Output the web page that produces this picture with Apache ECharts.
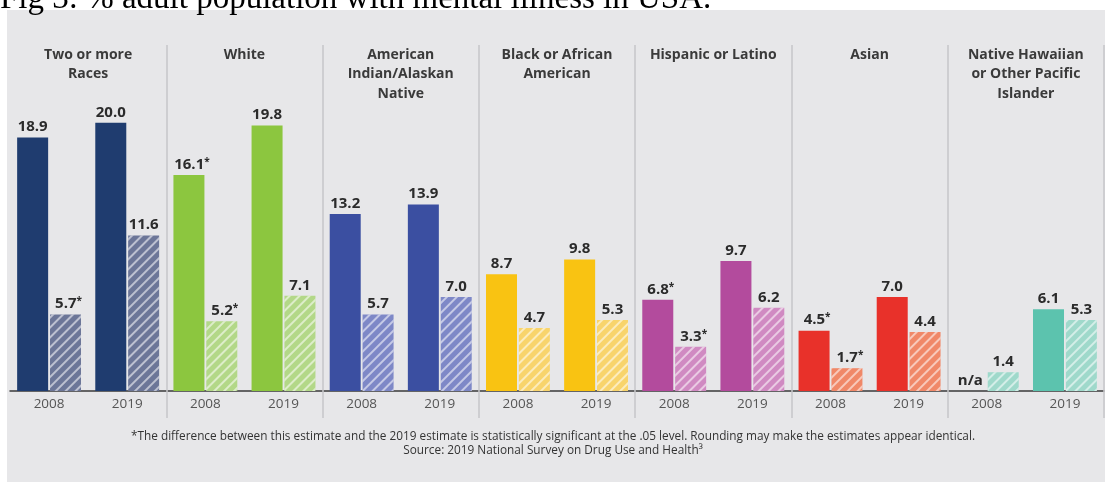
<!DOCTYPE html>
<html><head><meta charset="utf-8">
<script src="https://cdn.jsdelivr.net/npm/echarts@6/dist/echarts.min.js"></script>
<style>html,body{margin:0;padding:0;background:#fff}#c{width:1105px;height:489px}</style>
</head><body><div id="c"></div>
<script>
// ---- data ----
const groups = ['Two or more\nRaces', 'White', 'American\nIndian/Alaskan\nNative', 'Black or African\nAmerican', 'Hispanic or Latino', 'Asian', 'Native Hawaiian\nor Other Pacific\nIslander'];
const years = ['2008', '2019'];
const anyMI2008 = [18.9, 16.1, 13.2, 8.7, 6.8, 4.5, null];   // null = n/a
const anyMI2019 = [20.0, 19.8, 13.9, 9.8, 9.7, 7.0, 6.1];
const smi2008 = [5.7, 5.2, 5.7, 4.7, 3.3, 1.7, 1.4];
const smi2019 = [11.6, 7.1, 7.0, 5.3, 6.2, 4.4, 5.3];
const anyMI2008Sig = [false, true, false, false, true, true, false];
const smi2008Sig = [true, true, false, false, true, true, false];
const solidColors = ['#1f3c6f', '#8cc63f', '#3b4fa1', '#f9c312', '#b34b9d', '#e8312a', '#5cc3ae'];
const hatchColors = ['#6c7698', '#b3d888', '#7e88c7', '#f8d46c', '#d08ac2', '#f08868', '#9fd9cb'];
const titleText = 'Fig 3: % adult population with mental illness in USA.';
const footLine1 = '*The difference between this estimate and the 2019 estimate is statistically significant at the .05 level. Rounding may make the estimates appear identical.';
const footLine2 = 'Source: 2019 National Survey on Drug Use and Health\u00b3';

// ---- build ----
const cats = [];
const solidData = [];
const hatchData = [];
const decal = { symbol: 'rect', symbolSize: 1, dashArrayX: [1, 0], dashArrayY: [2, 5], rotation: -Math.PI / 4, color: 'rgba(255,255,255,0.55)' };
groups.forEach((g, gi) => {
  years.forEach((y, yi) => {
    cats.push(y);
    const sv = yi === 0 ? anyMI2008[gi] : anyMI2019[gi];
    const ss = yi === 0 ? anyMI2008Sig[gi] : false;
    const hv = yi === 0 ? smi2008[gi] : smi2019[gi];
    const hs = yi === 0 ? smi2008Sig[gi] : false;
    solidData.push({ value: sv === null ? 0 : sv, na: sv === null, sig: ss,
      itemStyle: { color: solidColors[gi] },
      label: { offset: [ss ? 3 : 0, 0] } });
    hatchData.push({ value: hv, sig: hs,
      itemStyle: { color: hatchColors[gi], decal: decal },
      label: { offset: [hs ? 3 : 0, 0] } });
  });
});

const FONT = '"Open Sans", sans-serif';
const labelCfg = {
  show: true, position: 'top', distance: 3,
  formatter: p => p.data.na ? '{v|n/a}' : '{v|' + p.data.value.toFixed(1) + '}' + (p.data.sig ? '{s|*}' : ''),
  rich: {
    v: { fontSize: 15, fontWeight: 'bold', color: '#2b2b2b', fontFamily: FONT },
    s: { fontSize: 10, fontWeight: 'bold', color: '#2b2b2b', fontFamily: FONT, verticalAlign: 'top' }
  }
};

const chart = echarts.init(document.getElementById('c'), null, { renderer: 'canvas' });
chart.setOption({
  backgroundColor: '#ffffff',
  animation: false,
  graphic: [
    { type: 'rect', z: -10, silent: true, shape: { x: 7, y: 10, width: 1098, height: 472 }, style: { fill: '#e7e7e9' } },
    { type: 'text', z: 10, x: 0, y: 16, style: { text: titleText, font: '33px "Liberation Serif", serif', fill: '#000', verticalAlign: 'bottom' } },
    { type: 'text', z: 10, x: 553, y: 430, style: { text: footLine1 + '\n' + footLine2, font: '11.8px ' + FONT, fill: '#333', align: 'center', lineHeight: 14 } }
  ],
  grid: { left: 10, right: 1, top: 45, bottom: 98 },
  xAxis: [
    { type: 'category', data: cats, position: 'bottom',
      axisLine: { show: true, lineStyle: { color: '#3a3a3a', width: 1.5 } },
      axisTick: { show: false },
      axisLabel: { interval: 0, color: '#555', fontSize: 13.5, fontFamily: FONT, margin: 6 } },
    { type: 'category', data: groups, position: 'top',
      axisLine: { show: false },
      axisTick: { show: true, inside: true, length: 373, interval: (i) => i > 0 && i < groups.length, lineStyle: { color: '#c6c6c9', width: 1.5 } },
      axisLabel: { interval: 0, color: '#3a3a3a', fontSize: 14, fontWeight: 'bold', fontFamily: FONT, lineHeight: 19.5, verticalAlign: 'top', margin: 0 } }
  ],
  yAxis: { type: 'value', min: 0, max: 25.8, show: false },
  series: [
    { name: 'Any mental illness', type: 'bar', xAxisIndex: 0, barWidth: 31, barGap: '6%', data: solidData, label: labelCfg },
    { name: 'Serious mental illness', type: 'bar', xAxisIndex: 0, barWidth: 31, barGap: '6%', data: hatchData, label: labelCfg }
  ]
});
</script></body></html>
